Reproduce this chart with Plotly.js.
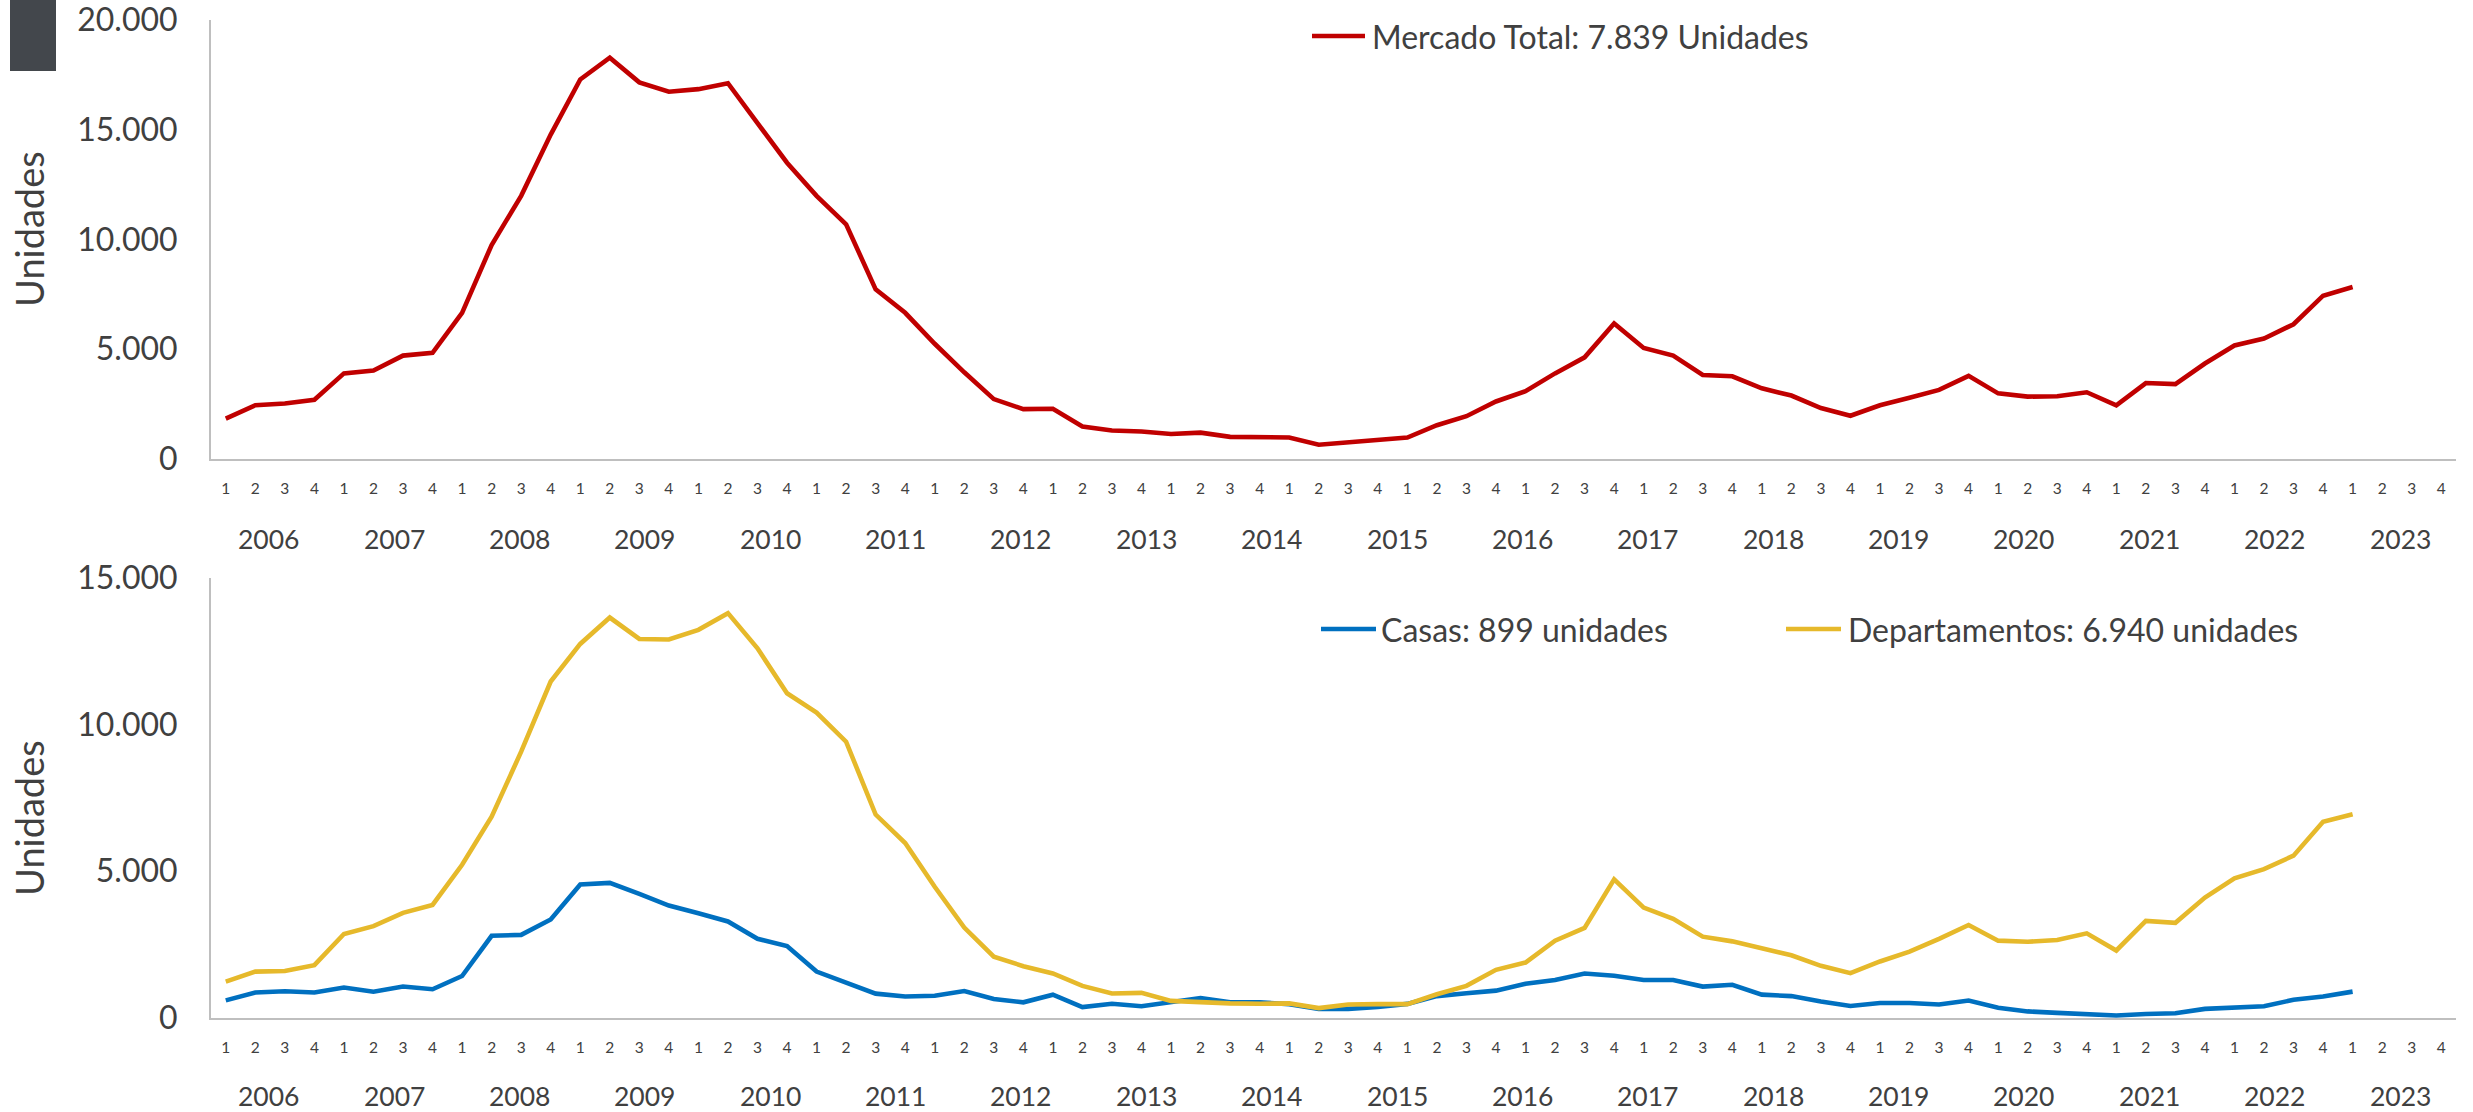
<!DOCTYPE html>
<html>
<head>
<meta charset="utf-8">
<script src="https://cdn.plot.ly/plotly-3.0.1.min.js"></script>
<style>
html,body{margin:0;padding:0;background:#ffffff;}
#chart{width:2473px;height:1112px;}
</style>
</head>
<body>
<div id="chart"></div>
<script>
// ---- data ----
const quarterLabels = [
  '1','2','3','4','1','2','3','4','1','2','3','4','1','2','3','4',
  '1','2','3','4','1','2','3','4','1','2','3','4','1','2','3','4',
  '1','2','3','4','1','2','3','4','1','2','3','4','1','2','3','4',
  '1','2','3','4','1','2','3','4','1','2','3','4','1','2','3','4',
  '1','2','3','4','1','2','3','4','1','2','3','4'
];
const years = ['2006','2007','2008','2009','2010','2011','2012','2013','2014',
  '2015','2016','2017','2018','2019','2020','2021','2022','2023'];

const mercadoTotal = [
  1840, 2450, 2530, 2700, 3900, 4030, 4710, 4840, 6660, 9750,
  11990, 14780, 17290, 18280, 17160, 16730, 16850, 17120, 15300, 13500,
  11990, 10690, 7730, 6660, 5250, 3950, 2730, 2270, 2290, 1480,
  1300, 1250, 1140, 1200, 1010, 990, 980, 650, 750, 830,
  975, 1540, 1950, 2620, 3090, 3900, 4630, 6170, 5060, 4710,
  3830, 3770, 3220, 2890, 2320, 1970, 2450, 2790, 3150, 3790,
  2990, 2840, 2860, 3040, 2440, 3460, 3410, 4350, 5170, 5490,
  6140, 7440, 7839
];
const casas = [
  600, 870, 910, 870, 1040, 895, 1070, 980, 1430, 2800,
  2830, 3355, 4550, 4600, 4225, 3830, 3570, 3290, 2700, 2450,
  1580, 1220, 830, 733, 760, 920, 646, 534, 795, 373,
  485, 398, 522, 683, 534, 534, 472, 311, 311, 373,
  480, 746, 845, 932, 1168, 1292, 1516, 1441, 1292, 1292,
  1069, 1131, 795, 746, 560, 410, 510, 510, 460, 596,
  348, 224, 174, 150, 87, 137, 162, 311, 373, 398,
  621, 733, 899
];
const departamentos = [
  1240, 1580, 1600, 1800, 2860, 3130, 3580, 3850, 5220, 6860,
  9070, 11460, 12740, 13640, 12910, 12890, 13220, 13790, 12590, 11060,
  10400, 9410, 6930, 5960, 4470, 3080, 2090, 1765, 1516, 1094,
  833, 857, 584, 522, 497, 485, 497, 336, 460, 472,
  472, 808, 1094, 1640, 1889, 2635, 3070, 4722, 3760, 3380,
  2770, 2610, 2386, 2137, 1777, 1528, 1926, 2262, 2697, 3169,
  2634, 2597, 2659, 2883, 2299, 3306, 3243, 4101, 4760, 5070,
  5530, 6686, 6940
];
const topTicks = [0, 5000, 10000, 15000, 20000];
const bottomTicks = [0, 5000, 10000, 15000];

const legendTotal = 'Mercado Total: 7.839 Unidades';
const legendCasas = 'Casas: 899 unidades';
const legendDeptos = 'Departamentos: 6.940 unidades';
const yTitle = 'Unidades';

// ---- style ----
const W = 2473, H = 1112;
const FONT = 'Lato, "Open Sans", "DejaVu Sans", sans-serif';
const TXT = '#404040';
const AX = '#BFBFBF';
const RED = '#C00000', BLUE = '#0070C0', GOLD = '#E6B92B';
const px = v => v / W;
const py = v => 1 - v / H;

const xs = mercadoTotal.map((_, i) => i);
const tickIdx = quarterLabels.map((_, i) => i);

const traces = [
  {x: xs, y: mercadoTotal, xaxis: 'x', yaxis: 'y', type: 'scatter', mode: 'lines',
   name: legendTotal, line: {color: RED, width: 4.6}, hoverinfo: 'skip'},
  {x: xs, y: casas, xaxis: 'x2', yaxis: 'y2', type: 'scatter', mode: 'lines',
   name: legendCasas, line: {color: BLUE, width: 4.6}, hoverinfo: 'skip'},
  {x: xs, y: departamentos, xaxis: 'x2', yaxis: 'y2', type: 'scatter', mode: 'lines',
   name: legendDeptos, line: {color: GOLD, width: 4.6}, hoverinfo: 'skip'}
];

const xCommon = {
  domain: [px(211), px(2456)],
  range: [-0.5, quarterLabels.length - 0.5],
  tickmode: 'array', tickvals: tickIdx, ticktext: quarterLabels,
  showline: true, linecolor: AX, linewidth: 2,
  showgrid: false, zeroline: false, ticks: '',
  tickfont: {family: FONT, size: 15.5, color: TXT},
  ticklabelstandoff: 14, ticklabeloverflow: 'allow', fixedrange: true
};
const yCommon = {
  showline: true, linecolor: AX, linewidth: 2,
  showgrid: false, zeroline: false, ticks: '',
  tickformat: ',d',
  tickfont: {family: FONT, size: 32, color: TXT},
  ticklabelstandoff: 25, ticklabeloverflow: 'allow', fixedrange: true
};

const annotations = [];
const yearX0 = 268.8, yearStep = (2400 - 268.8) / (years.length - 1);
years.forEach((yr, k) => {
  [538.7, 1096.4].forEach(yy => {
    annotations.push({xref: 'paper', yref: 'paper', x: px(yearX0 + k * yearStep), y: py(yy),
      xanchor: 'center', yanchor: 'middle', text: yr, showarrow: false,
      font: {family: FONT, size: 26.5, color: TXT}});
  });
});
[229, 818].forEach(yy => {
  annotations.push({xref: 'paper', yref: 'paper', x: px(29), y: py(yy),
    xanchor: 'center', yanchor: 'middle', text: yTitle, textangle: -90, showarrow: false,
    font: {family: FONT, size: 38, color: TXT}});
});
[[legendTotal, 1370, 36], [legendCasas, 1379, 629], [legendDeptos, 1846, 629]].forEach(([t, x, y]) => {
  annotations.push({xref: 'paper', yref: 'paper', x: px(x), y: py(y),
    xanchor: 'left', yanchor: 'middle', text: t, showarrow: false,
    font: {family: FONT, size: 32, color: TXT}});
});

const shapes = [
  {type: 'rect', xref: 'paper', yref: 'paper', x0: px(10), x1: px(56), y0: py(71), y1: 1,
   fillcolor: '#43474C', line: {width: 0}},
  {type: 'line', xref: 'paper', yref: 'paper', x0: px(1312), x1: px(1365), y0: py(36), y1: py(36),
   line: {color: RED, width: 4.7}},
  {type: 'line', xref: 'paper', yref: 'paper', x0: px(1321), x1: px(1376), y0: py(629), y1: py(629),
   line: {color: BLUE, width: 4.7}},
  {type: 'line', xref: 'paper', yref: 'paper', x0: px(1786), x1: px(1841), y0: py(629), y1: py(629),
   line: {color: GOLD, width: 4.7}}
];

const layout = {
  width: W, height: H,
  margin: {l: 0, r: 0, t: 0, b: 0, pad: 0},
  paper_bgcolor: '#ffffff', plot_bgcolor: '#ffffff',
  showlegend: false,
  separators: ',.',
  font: {family: FONT, color: TXT},
  xaxis: Object.assign({}, xCommon, {anchor: 'y'}),
  yaxis: Object.assign({}, yCommon, {anchor: 'x', domain: [py(459), py(20)], range: [0, 20000],
    tickmode: 'array', tickvals: topTicks}),
  xaxis2: Object.assign({}, xCommon, {anchor: 'y2'}),
  yaxis2: Object.assign({}, yCommon, {anchor: 'x2', domain: [py(1018), py(577.6)], range: [0, 15000],
    tickmode: 'array', tickvals: bottomTicks}),
  annotations: annotations,
  shapes: shapes
};

Plotly.newPlot('chart', traces, layout, {displayModeBar: false, staticPlot: true});
</script>
</body>
</html>
